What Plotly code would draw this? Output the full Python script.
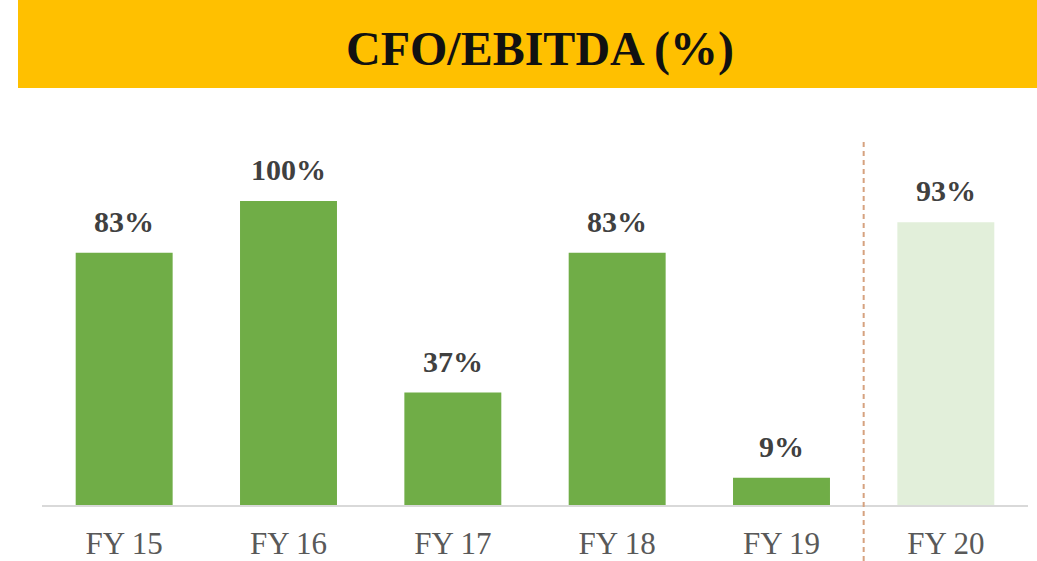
import plotly.graph_objects as go

categories = ["FY 15", "FY 16", "FY 17", "FY 18", "FY 19", "FY 20"]
values = [83, 100, 37, 83, 9, 93]
labels = ["83%", "100%", "37%", "83%", "9%", "93%"]
colors = ["#70AD47", "#70AD47", "#70AD47", "#70AD47", "#70AD47", "#E2EFDA"]
title_text = "CFO/EBITDA (%)"

W, H = 1037, 561
ML, MR, MT, MB = 42, 9, 100, 56
plot_h = H - MT - MB
ymax = plot_h / 3.04

fig = go.Figure()
fig.add_trace(go.Bar(
    x=categories, y=values, marker=dict(color=colors, line=dict(width=0)),
    hoverinfo="skip",
))

annotations = []
for c, v, t in zip(categories, values, labels):
    annotations.append(dict(
        x=c, y=v, xref="x", yref="y", text="<b>" + t + "</b>", showarrow=False,
        yanchor="bottom", yshift=13,
        font=dict(family="Liberation Serif", size=30, color="#404040"),
    ))

plot_w = W - ML - MR
def px_x(p):
    return (p - ML) / plot_w
def px_y(p):
    return (H - MB - p) / plot_h

annotations.append(dict(
    x=px_x(540), y=px_y(49), xref="paper", yref="paper",
    text="<b>" + title_text + "</b>", showarrow=False,
    xanchor="center", yanchor="middle",
    font=dict(family="Liberation Serif", size=48, color="#111111"),
))

shapes = [
    dict(type="rect", xref="paper", yref="paper",
         x0=px_x(18), x1=px_x(1040), y0=px_y(88), y1=px_y(-2),
         fillcolor="#FFC000", line=dict(width=0), layer="below"),
    dict(type="line", xref="x", yref="paper", x0=4.5, x1=4.5,
         y0=px_y(561), y1=px_y(141),
         line=dict(color="#D6A27F", width=2, dash="5px,4px")),
]

fig.update_layout(
    width=W, height=H,
    margin=dict(l=ML, r=MR, t=MT, b=MB, autoexpand=False),
    paper_bgcolor="white", plot_bgcolor="white",
    bargap=0.41, showlegend=False,
    annotations=annotations, shapes=shapes,
    xaxis=dict(showgrid=False, showline=True, linecolor="#D9D9D9", linewidth=2,
               ticks="", automargin=False,
               tickfont=dict(family="Liberation Serif", size=31, color="#595959"),
               ticklabelstandoff=10),
    yaxis=dict(range=[0, ymax], visible=False, showgrid=False, zeroline=False,
               automargin=False),
)

fig.write_html("out.html", config={"displayModeBar": False},
               post_script="document.body.style.margin='0';document.body.style.overflow='hidden';")
